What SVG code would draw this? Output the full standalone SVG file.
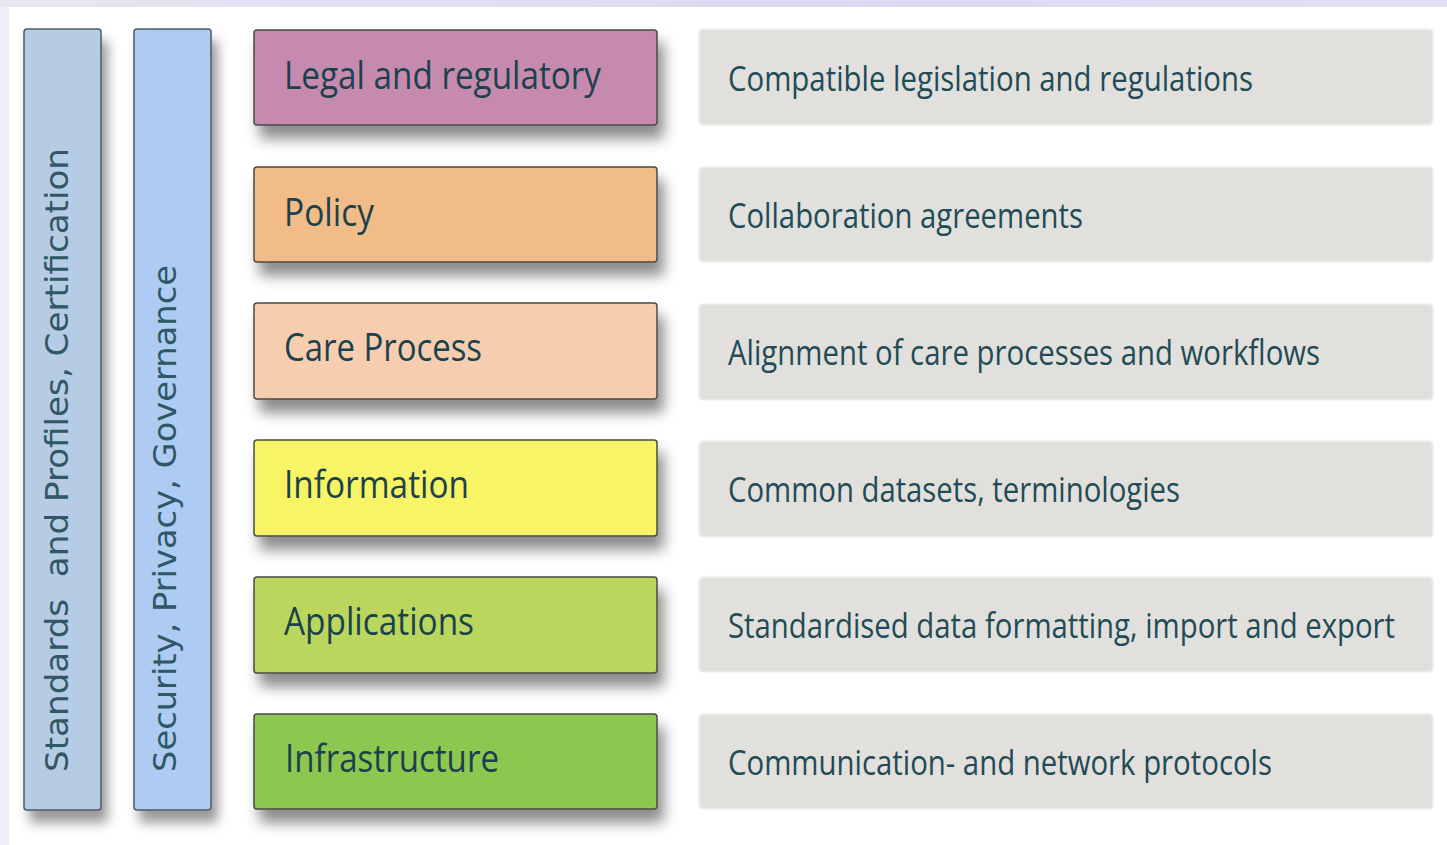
<svg xmlns="http://www.w3.org/2000/svg" width="1447" height="845" viewBox="0 0 1447 845">
<defs>
<filter id="sh" x="-10%" y="-20%" width="125%" height="170%">
<feDropShadow dx="6" dy="13" stdDeviation="7" flood-color="#000" flood-opacity="0.45"/>
</filter>
<filter id="shv" x="-40%" y="-5%" width="200%" height="115%">
<feDropShadow dx="6" dy="12" stdDeviation="6" flood-color="#000" flood-opacity="0.4"/>
</filter>
<filter id="soft" x="-5%" y="-20%" width="110%" height="140%">
<feGaussianBlur stdDeviation="0.8"/>
</filter>
<linearGradient id="topg" x1="0" x2="1" y1="0" y2="0">
<stop offset="0" stop-color="#e6e6f3"/>
<stop offset="0.6" stop-color="#dcd8ef"/>
<stop offset="1" stop-color="#e4e0f3"/>
</linearGradient>
</defs>
<style>
.bar{stroke:#4e5a66;stroke-width:1.5}
.layer{stroke:#4a4a44;stroke-width:1.5}
.desc{fill:#e1e0dd}
.lt{font-family:"Open Sans","Liberation Sans",sans-serif;font-size:38px;font-weight:500;fill:#1b424c}
.rt{font-family:"Open Sans","Liberation Sans",sans-serif;font-size:35px;font-weight:500;fill:#224b55}
.vt{font-family:"DejaVu Sans","Liberation Sans",sans-serif;font-size:32px;fill:#2f5864}
</style>
<rect x="0" y="0" width="1447" height="845" fill="#ffffff"/>
<rect x="0" y="0" width="1447" height="7" fill="url(#topg)"/>
<rect x="0" y="7" width="9" height="838" fill="#efeff6"/>

<g id="bar-standards">
<rect class="bar" x="24" y="29" width="77" height="781" rx="3" fill="#b6cbe4" filter="url(#shv)"/>
<text class="vt" transform="translate(68,772) rotate(-90)" textLength="624" lengthAdjust="spacingAndGlyphs" xml:space="preserve">Standards  and Profiles, Certification</text>
</g>
<g id="bar-security">
<rect class="bar" x="134" y="29" width="77" height="781" rx="3" fill="#adcbf3" filter="url(#shv)"/>
<text class="vt" transform="translate(176,772) rotate(-90)" textLength="507" lengthAdjust="spacingAndGlyphs">Security, Privacy, Governance</text>
</g>

<g id="layer-legal">
<rect class="layer" x="254" y="30" width="403" height="95" rx="3" fill="#c78aaf" filter="url(#sh)"/>
<text class="lt" x="284" y="89" textLength="317" lengthAdjust="spacingAndGlyphs">Legal and regulatory</text>
</g>
<g id="layer-policy">
<rect class="layer" x="254" y="167" width="403" height="95" rx="3" fill="#f2bc89" filter="url(#sh)"/>
<text class="lt" x="284" y="226" textLength="90" lengthAdjust="spacingAndGlyphs">Policy</text>
</g>
<g id="layer-care">
<rect class="layer" x="254" y="303" width="403" height="96" rx="3" fill="#f6cdae" filter="url(#sh)"/>
<text class="lt" x="284" y="361" textLength="198" lengthAdjust="spacingAndGlyphs">Care Process</text>
</g>
<g id="layer-information">
<rect class="layer" x="254" y="440" width="403" height="96" rx="3" fill="#f7f465" filter="url(#sh)"/>
<text class="lt" x="284" y="498" textLength="185" lengthAdjust="spacingAndGlyphs">Information</text>
</g>
<g id="layer-applications">
<rect class="layer" x="254" y="577" width="403" height="96" rx="3" fill="#bad65b" filter="url(#sh)"/>
<text class="lt" x="284" y="635" textLength="190" lengthAdjust="spacingAndGlyphs">Applications</text>
</g>
<g id="layer-infrastructure">
<rect class="layer" x="254" y="714" width="403" height="95" rx="3" fill="#8dc750" filter="url(#sh)"/>
<text class="lt" x="285" y="772" textLength="214" lengthAdjust="spacingAndGlyphs">Infrastructure</text>
</g>

<g id="desc-legal">
<rect class="desc" x="699" y="29" width="734" height="96" rx="4" filter="url(#soft)"/>
<text class="rt" x="728" y="91" textLength="525" lengthAdjust="spacingAndGlyphs">Compatible legislation and regulations</text>
</g>
<g id="desc-policy">
<rect class="desc" x="699" y="167" width="734" height="95" rx="4" filter="url(#soft)"/>
<text class="rt" x="728" y="228" textLength="355" lengthAdjust="spacingAndGlyphs">Collaboration agreements</text>
</g>
<g id="desc-care">
<rect class="desc" x="699" y="304" width="734" height="96" rx="4" filter="url(#soft)"/>
<text class="rt" x="728" y="365" textLength="592" lengthAdjust="spacingAndGlyphs">Alignment of care processes and workflows</text>
</g>
<g id="desc-information">
<rect class="desc" x="699" y="441" width="734" height="96" rx="4" filter="url(#soft)"/>
<text class="rt" x="728" y="502" textLength="452" lengthAdjust="spacingAndGlyphs">Common datasets, terminologies</text>
</g>
<g id="desc-applications">
<rect class="desc" x="699" y="577" width="734" height="95" rx="4" filter="url(#soft)"/>
<text class="rt" x="728" y="638" textLength="667" lengthAdjust="spacingAndGlyphs">Standardised data formatting, import and export</text>
</g>
<g id="desc-infrastructure">
<rect class="desc" x="699" y="714" width="734" height="95" rx="4" filter="url(#soft)"/>
<text class="rt" x="728" y="775" textLength="544" lengthAdjust="spacingAndGlyphs">Communication- and network protocols</text>
</g>
<g id="connectors"/>
</svg>
